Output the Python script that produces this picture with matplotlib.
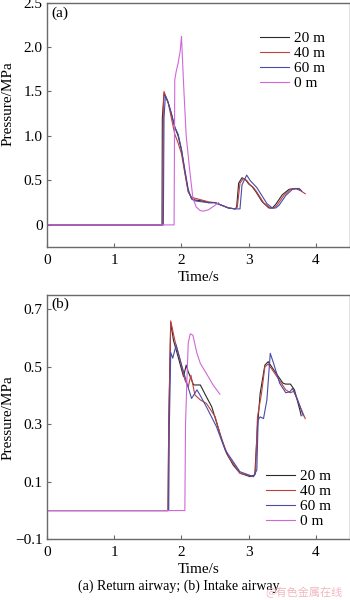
import matplotlib
matplotlib.use("Agg")
import matplotlib.pyplot as plt

plt.rcParams['font.family'] = ['Liberation Serif', 'DejaVu Serif']

labels = ["20 m", "40 m", "60 m", "0 m"]
colors = ["#2a2a2a", "#c04040", "#4a4aa8", "#d068d8"]

# (a) Return airway
a20_t = [0, 1.71, 1.715, 1.74, 1.8, 1.85, 1.9, 1.95, 2.0, 2.05, 2.1, 2.15, 2.2, 2.3, 2.4, 2.5, 2.6, 2.7, 2.8, 2.82, 2.85, 2.9, 2.95, 3.0, 3.05, 3.1, 3.2, 3.3, 3.35, 3.4, 3.5, 3.6, 3.7, 3.76]
a20_p = [0, 0, 1.2, 1.48, 1.38, 1.25, 1.1, 1.0, 0.84, 0.6, 0.38, 0.3, 0.28, 0.27, 0.25, 0.25, 0.22, 0.19, 0.18, 0.2, 0.47, 0.53, 0.51, 0.46, 0.43, 0.38, 0.26, 0.19, 0.19, 0.23, 0.34, 0.4, 0.41, 0.39]
a40_t = [0, 1.72, 1.73, 1.74, 1.8, 1.85, 1.9, 1.95, 2.0, 2.05, 2.1, 2.15, 2.2, 2.3, 2.4, 2.5, 2.6, 2.7, 2.8, 2.83, 2.87, 2.92, 2.97, 3.02, 3.07, 3.12, 3.22, 3.32, 3.37, 3.42, 3.52, 3.62, 3.72, 3.84]
a40_p = [0, 0, 1.3, 1.5, 1.38, 1.2, 1.02, 0.92, 0.8, 0.58, 0.37, 0.31, 0.3, 0.28, 0.26, 0.25, 0.22, 0.19, 0.18, 0.2, 0.47, 0.52, 0.5, 0.45, 0.42, 0.37, 0.25, 0.19, 0.19, 0.22, 0.33, 0.4, 0.41, 0.35]
a60_t = [0, 1.73, 1.74, 1.76, 1.8, 1.85, 1.9, 1.95, 2.0, 2.05, 2.1, 2.15, 2.2, 2.3, 2.4, 2.5, 2.6, 2.7, 2.8, 2.87, 2.9, 2.97, 3.02, 3.07, 3.12, 3.17, 3.27, 3.35, 3.4, 3.45, 3.55, 3.65, 3.75, 3.79]
a60_p = [0, 0, 1.2, 1.45, 1.38, 1.25, 1.1, 1.02, 0.85, 0.62, 0.4, 0.29, 0.27, 0.26, 0.25, 0.25, 0.22, 0.19, 0.18, 0.18, 0.45, 0.56, 0.5, 0.46, 0.42, 0.36, 0.24, 0.19, 0.19, 0.22, 0.33, 0.4, 0.41, 0.38]
a0_t = [0, 1.89, 1.9, 1.92, 1.95, 1.98, 2.0, 2.03, 2.07, 2.12, 2.17, 2.22, 2.28, 2.33, 2.4, 2.48, 2.55]
a0_p = [0, 0, 1.63, 1.72, 1.82, 1.95, 2.12, 1.6, 1.0, 0.63, 0.3, 0.2, 0.16, 0.155, 0.17, 0.21, 0.25]

# (b) Intake airway
b20_t = [0, 1.8, 1.81, 1.84, 1.88, 1.95, 2.03, 2.07, 2.1, 2.18, 2.28, 2.37, 2.45, 2.57, 2.67, 2.77, 2.87, 3.02, 3.09, 3.13, 3.17, 3.24, 3.29, 3.37, 3.51, 3.55, 3.62, 3.68, 3.76, 3.78]
b20_p = [0, 0, 0.3, 0.655, 0.593, 0.535, 0.466, 0.506, 0.483, 0.437, 0.437, 0.396, 0.361, 0.269, 0.199, 0.158, 0.13, 0.118, 0.124, 0.292, 0.408, 0.506, 0.518, 0.49, 0.443, 0.44, 0.44, 0.42, 0.35, 0.33]
b40_t = [0, 1.8, 1.81, 1.84, 1.9, 1.98, 2.05, 2.1, 2.14, 2.2, 2.28, 2.37, 2.5, 2.6, 2.7, 2.87, 3.07, 3.1, 3.13, 3.19, 3.24, 3.29, 3.42, 3.55, 3.62, 3.67, 3.75, 3.84]
b40_p = [0, 0, 0.3, 0.66, 0.593, 0.524, 0.455, 0.43, 0.471, 0.402, 0.385, 0.373, 0.327, 0.245, 0.187, 0.13, 0.118, 0.13, 0.326, 0.408, 0.5, 0.51, 0.466, 0.42, 0.41, 0.415, 0.37, 0.32]
b60_t = [0, 1.81, 1.82, 1.84, 1.87, 1.92, 1.98, 2.08, 2.15, 2.23, 2.28, 2.37, 2.52, 2.65, 2.72, 2.87, 3.07, 3.12, 3.14, 3.17, 3.22, 3.27, 3.32, 3.37, 3.46, 3.55, 3.61, 3.65, 3.72, 3.81]
b60_p = [0, 0, 0.3, 0.55, 0.53, 0.576, 0.524, 0.443, 0.39, 0.42, 0.40, 0.361, 0.292, 0.21, 0.187, 0.135, 0.118, 0.141, 0.315, 0.326, 0.32, 0.385, 0.547, 0.512, 0.443, 0.41, 0.413, 0.425, 0.39, 0.33]
b0_t = [0, 2.05, 2.06, 2.08, 2.1, 2.13, 2.17, 2.23, 2.28, 2.37, 2.47, 2.57]
b0_p = [0, 0, 0.3, 0.45, 0.582, 0.615, 0.61, 0.547, 0.512, 0.477, 0.437, 0.405]

a_series = [(a20_t, a20_p), (a40_t, a40_p), (a60_t, a60_p), (a0_t, a0_p)]
b_series = [(b20_t, b20_p), (b40_t, b40_p), (b60_t, b60_p), (b0_t, b0_p)]

W, H = 350, 600
fig = plt.figure(figsize=(3.5, 6), dpi=100)

def ax_rect(l, t, r, b):
    return [l / W, 1 - b / H, (r - l) / W, (b - t) / H]

spine_c = "#6a6a6a"
fs = 11

def style(ax):
    for s in ax.spines.values():
        s.set_color(spine_c)
        s.set_linewidth(1.0)
    ax.tick_params(direction='in', length=3, width=0.8, color=spine_c, labelsize=fs)
    ax.tick_params(axis='x', pad=5)
    ax.tick_params(axis='y', pad=3)
    ax.set_xlim(0, 4.5)
    ax.set_xticks([0, 1, 2, 3, 4])
    ax.set_xlabel("Time/s", fontsize=fs, labelpad=3)
    ax.set_ylabel("Pressure/MPa", fontsize=fs)

ax1 = fig.add_axes(ax_rect(47, 2.5, 349.6, 246.7))
for (t, p), c, lab in zip(a_series, colors, labels):
    ax1.plot(t, p, color=c, lw=0.8, label=lab)
style(ax1)
ax1.set_ylim(-0.245, 2.5)
ax1.set_yticks([0, 0.5, 1.0, 1.5, 2.0, 2.5])
ax1.set_yticklabels(["0", "0.5", "1.0", "1.5", "2.0", "2.5"])
ax1.yaxis.set_label_coords(-0.108, 0.586)
ax1.text(0.013, 0.985, "(a)", transform=ax1.transAxes, fontsize=fs, va='top', ha='left')
ax1.legend(loc='upper left', bbox_to_anchor=(0.703, 0.88), frameon=False, fontsize=fs,
           handlelength=1.9, handletextpad=0.35, labelspacing=0.08, borderpad=0, borderaxespad=0)

ax2 = fig.add_axes(ax_rect(47, 295, 349.6, 539.3))
for (t, p), c, lab in zip(b_series, colors, labels):
    ax2.plot(t, p, color=c, lw=0.8, label=lab)
style(ax2)
ax2.set_ylim(-0.1, 0.75)
ax2.set_yticks([-0.1, 0.1, 0.3, 0.5, 0.7])
ax2.set_yticklabels(["\u22120.1", "0.1", "0.3", "0.5", "0.7"])
ax2.yaxis.set_label_coords(-0.108, 0.5)
ax2.text(0.013, 0.99, "(b)", transform=ax2.transAxes, fontsize=fs, va='top', ha='left')
ax2.legend(loc='upper left', bbox_to_anchor=(0.724, 0.285), frameon=False, fontsize=fs,
           handlelength=1.9, handletextpad=0.35, labelspacing=0.08, borderpad=0, borderaxespad=0)

fig.text(179 / W, 1 - 586 / H, "(a) Return airway; (b) Intake airway", fontsize=10,
         ha='center', va='center')
fig.text(343 / W, 1 - 592 / H, "@有色金属在线", fontsize=8, color="#f0b8c0",
         ha='right', va='center', family=['Noto Sans CJK SC', 'DejaVu Sans'])

fig.savefig("out.png", dpi=100)
